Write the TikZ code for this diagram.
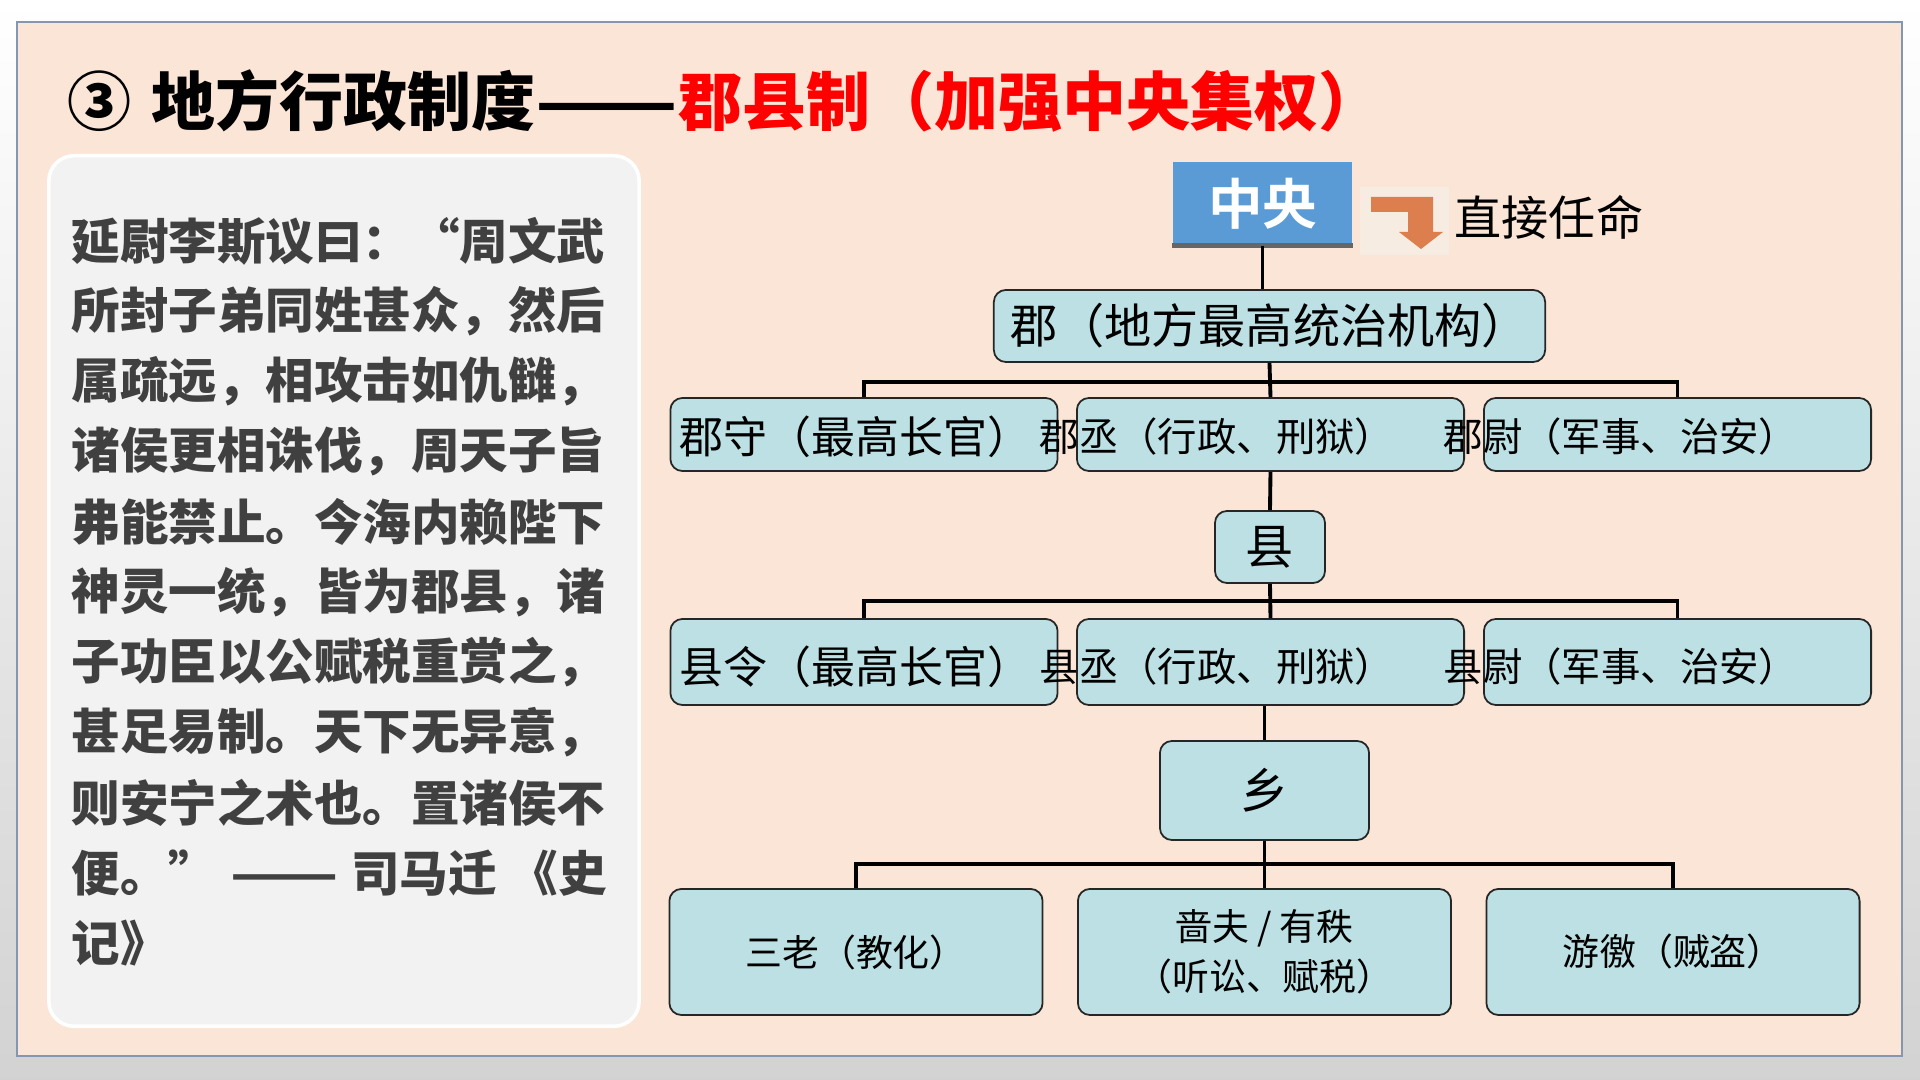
\documentclass[tikz,border=0pt]{standalone}
\usepackage{fontspec}
\usepackage{graphicx}
\setmainfont{Noto Sans CJK SC}[BoldFont={Noto Sans CJK SC Bold}]
\newfontfamily\heavy{Noto Sans CJK SC Black}
\usetikzlibrary{positioning}
\definecolor{peach}{HTML}{FBE5D6}
\definecolor{framec}{HTML}{8497B0}
\definecolor{boxc}{HTML}{BCE0E3}
\definecolor{quotebg}{HTML}{F2F2F2}
\definecolor{quotetx}{HTML}{404040}
\definecolor{blueh}{HTML}{5B9BD5}
\definecolor{arrowc}{HTML}{DD7E4E}
\definecolor{arrowbg}{HTML}{F6ECE2}
\definecolor{titlered}{HTML}{FF0000}
\newcommand{\longdash}{\scalebox{1.3}[1]{——}}

\begin{document}
\begin{tikzpicture}[x=0.01cm,y=-0.01cm,
	box/.style={draw=black!85,line width=0.5pt,fill=boxc,rounded corners=0.12cm,inner sep=0pt},
	tierA/.style={box,minimum width=3.87cm,minimum height=0.73cm},
	tierB/.style={box,minimum width=3.87cm,minimum height=0.86cm},
	tierC/.style={box,minimum width=3.73cm,minimum height=1.26cm,font=\fontsize{10.5}{14.2}\selectfont,align=center},
	conn/.style={line width=1.1pt,black},
	bigtxt/.style={anchor=west,inner sep=0pt,font=\fontsize{12.5}{14}\selectfont},
	smalltxt/.style={anchor=west,inner sep=0pt,font=\fontsize{11.2}{13}\selectfont},
	qline/.style={anchor=west,inner sep=0pt,text=quotetx,font=\heavy\fontsize{13.8}{16}\selectfont}]
	\useasboundingbox (0,0) rectangle (1920,1080);
	\shade[top color=white,bottom color=gray!35] (0,0) rectangle (1920,1080);
	\draw[framec,line width=0.7pt,fill=peach] (17,22) rectangle (1902,1056);

	\node[anchor=west,inner sep=0pt,font=\heavy\fontsize{18.2}{20}\selectfont] (title) at (67,101)
		{③\hspace{0.2cm}地方行政制度\longdash{}\textcolor{titlered}{郡县制（加强中央集权）}};

	\node[draw=white,line width=1pt,fill=quotebg,rounded corners=0.25cm,minimum width=5.9cm,minimum height=8.7cm] (qbox) at (344,591) {};
	\foreach \ln [count=\i] in {延尉李斯议曰：“周文武,所封子弟同姓甚众，然后,属疏远，相攻击如仇雠，,诸侯更相诛伐，周天子旨,弗能禁止。今海内赖陛下,神灵一统，皆为郡县，诸,子功臣以公赋税重赏之，,甚足易制。天下无异意，,则安宁之术也。置诸侯不,{\makebox[5.35cm][s]{便。”\hfill{}\longdash{}\hfill{}司马迁\hfill{}《史}},记》}
		\node[qline] (q\i) at (71,{241+70.2*(\i-1)}) {\ln};

	\node[fill=blueh,minimum width=1.79cm,minimum height=0.83cm,text=white,font=\bfseries\fontsize{15.5}{17}\selectfont] (zhongyang) at (1262.5,203.5) {中央};
	\draw[line width=1.3pt,black!60] (zhongyang.south west) -- (zhongyang.south east);
	\fill[arrowbg] (1360,187) rectangle (1449,255);
	\fill[arrowc] (1371,197) -- (1433,197) -- (1433,232) -- (1443,232) -- (1421,249) -- (1399,232) -- (1408,232) -- (1408,212) -- (1371,212) -- cycle;
	\node[anchor=west,inner sep=0pt,font=\fontsize{13.4}{15}\selectfont] (zhijie) at (1454,217) {直接任命};

	\node[box,minimum width=5.51cm,minimum height=0.72cm,font=\fontsize{13.4}{15}\selectfont] (jun) at (1269.5,326) {郡（地方最高统治机构）};

	\coordinate (busA) at (1270,382);
	\coordinate (busB) at (1270,601);
	\coordinate (busC) at (1265,864);

	\node[tierA] (junshou) at (864,434.5) {};
	\node[tierA] (juncheng) at (1270.5,434.5) {};
	\node[tierA] (junwei) at (1677.5,434.5) {};
	\node[bigtxt] (t-junshou) at (679,437) {郡守（最高长官）};
	\node[smalltxt] (t-juncheng) at (1039,437) {郡丞（行政、刑狱）};
	\node[smalltxt] (t-junwei) at (1443,437) {郡尉（军事、治安）};

	\node[box,minimum width=1.1cm,minimum height=0.72cm,font=\fontsize{13.7}{15}\selectfont] (xian) at (1270,547) {县};

	\node[tierB] (xianling) at (864,662) {};
	\node[tierB] (xiancheng) at (1270.5,662) {};
	\node[tierB] (xianwei) at (1677.5,662) {};
	\node[bigtxt] (t-xianling) at (679,667) {县令（最高长官）};
	\node[smalltxt] (t-xiancheng) at (1039,667) {县丞（行政、刑狱）};
	\node[smalltxt] (t-xianwei) at (1443,667) {县尉（军事、治安）};

	\node[box,minimum width=2.09cm,minimum height=0.99cm,font=\fontsize{13.7}{15}\selectfont] (xiang) at (1264.5,790.5) {乡};

	\node[tierC] (sanlao) at (856,952) {三老（教化）};
	\node[tierC] (sefu) at (1264.5,952) {啬夫 / 有秩\\（听讼、赋税）};
	\node[tierC] (youjiao) at (1673,952) {游徼（贼盗）};

	\draw[conn] (zhongyang.south) -- (zhongyang.south |- jun.north);
	\draw[conn] (jun.south) -- (juncheng.north);
	\draw[conn] (junshou.north) |- (busA) -| (junwei.north);
	\draw[conn] (juncheng.south) -- (xian.north);
	\draw[conn] (xian.south) -- (xiancheng.north);
	\draw[conn] (xianling.north) |- (busB) -| (xianwei.north);
	\draw[conn] (xiang.north |- xiancheng.south) -- (xiang.north);
	\draw[conn] (xiang.south) -- (sefu.north);
	\draw[conn] (sanlao.north) |- (busC) -| (youjiao.north);
\end{tikzpicture}
\end{document}
